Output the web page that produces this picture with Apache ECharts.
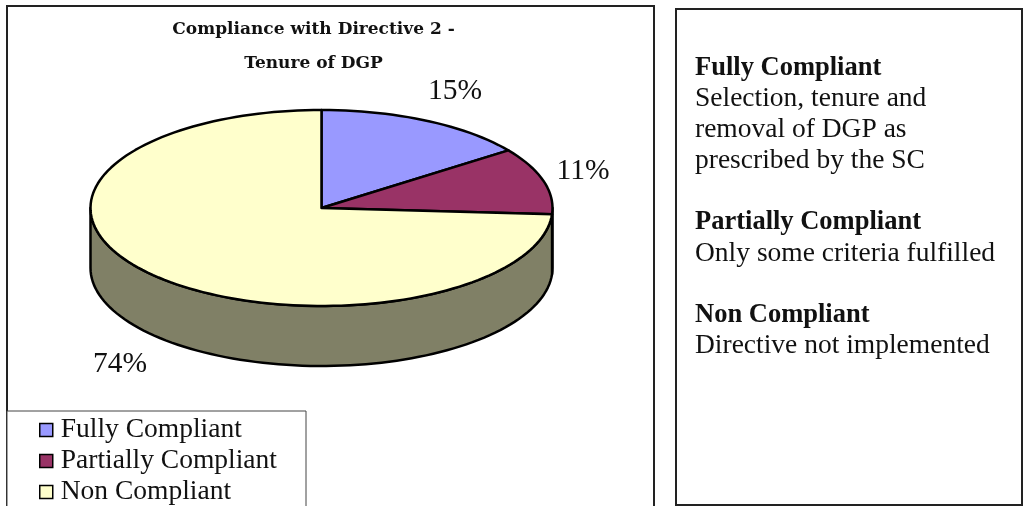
<!DOCTYPE html>
<html>
<head>
<meta charset="utf-8">
<title>Compliance with Directive 2</title>
<style>
  html, body { margin: 0; padding: 0; background: #fff; }
  #chart { width: 1024px; height: 506px; }
</style>
<script src="https://cdn.jsdelivr.net/npm/echarts@6/dist/echarts.min.js"></script>
</head>
<body>
<div id="chart"></div>
<script>
const categories = ['Fully Compliant', 'Partially Compliant', 'Non Compliant']
const values = [15, 11, 74]
const topColors = ['#9999FF', '#993366', '#FFFFCC']
const sideColors = ['#4D4D80', '#4D1A33', '#808066']
const notes = [
  ['Fully Compliant', true],
  ['Selection, tenure and', false],
  ['removal of DGP as', false],
  ['prescribed by the SC', false],
  null,
  ['Partially Compliant', true],
  ['Only some criteria fulfilled', false],
  null,
  ['Non Compliant', true],
  ['Directive not implemented', false]
]

const FONT = '"Liberation Serif", serif'
// tilted pie geometry
const cx = 321.5
const cy = 208
const rx = 231
const ry = 98
const depth = 60
const labelPos = [[455, 91], [583, 171], [120, 364]]

const total = values.reduce((a, b) => a + b, 0)

function pt(deg, dy) {
  const r = deg * Math.PI / 180
  return [cx + rx * Math.sin(r), cy - ry * Math.cos(r) + (dy || 0)]
}

function arc(from, to, dy) {
  const pts = []
  const n = Math.max(2, Math.ceil((to - from) / 2))
  for (let i = 0; i <= n; i++) {
    pts.push(pt(from + (to - from) * i / n, dy))
  }
  return pts
}

function sliceItem(index, from, to) {
  const children = []
  // only the front half of the rim shows
  const a = Math.max(from, 90)
  const b = Math.min(to, 270)
  if (b > a) {
    children.push({
      type: 'polygon',
      shape: { points: arc(a, b, 0).concat(arc(a, b, depth).reverse()) },
      style: { fill: sideColors[index], stroke: '#000', lineWidth: 2.5, lineJoin: 'round' }
    })
  }
  children.push({
    type: 'polygon',
    shape: { points: [[cx, cy]].concat(arc(from, to, 0)) },
    style: { fill: topColors[index], stroke: '#000', lineWidth: 2.5, lineJoin: 'round' }
  })
  children.push({
    type: 'text',
    style: {
      x: labelPos[index][0],
      y: labelPos[index][1],
      text: values[index] + '%',
      fill: '#111',
      font: '29.5px ' + FONT,
      align: 'center',
      verticalAlign: 'middle'
    }
  })
  return { type: 'group', children }
}

let acc = 0
const series = categories.map((name, i) => {
  const from = acc / total * 360
  acc += values[i]
  const to = acc / total * 360
  return {
    type: 'custom',
    name,
    coordinateSystem: 'none',
    silent: true,
    itemStyle: { color: topColors[i] },
    data: [[values[i]]],
    renderItem: () => sliceItem(i, from, to)
  }
})

const noteText = []
notes.forEach((line, i) => {
  if (!line) return
  noteText.push({
    type: 'text',
    x: 695,
    y: 68 + 30.9 * i,
    style: {
      text: line[0],
      fill: '#111',
      font: (line[1] ? 'bold 26.5px ' : '27.5px ') + FONT,
      verticalAlign: 'middle'
    }
  })
})

const frameStyle = { fill: '#fff', stroke: '#222', lineWidth: 2 }

const chart = echarts.init(document.getElementById('chart'), null, { renderer: 'canvas' })
chart.setOption({
  animation: false,
  backgroundColor: '#fff',
  title: {
    text: 'Compliance with Directive 2 -\nTenure of DGP',
    left: 308.5,
    top: 8,
    textAlign: 'center',
    textStyle: { fontFamily: '"DejaVu Serif", serif', fontWeight: 'bold', fontSize: 17, lineHeight: 34, color: '#111' }
  },
  legend: {
    orient: 'vertical',
    left: 34,
    top: 411,
    height: 130,
    icon: 'rect',
    itemWidth: 13,
    itemHeight: 13,
    itemGap: 3,
    data: categories,
    itemStyle: { borderColor: '#000', borderWidth: 1.5 },
    textStyle: { fontFamily: FONT, fontSize: 27.5, color: '#111', padding: [0, 0, 0, 3] }
  },
  graphic: {
    elements: [
      { type: 'rect', z: -10, shape: { x: 7, y: 6, width: 647, height: 510 }, style: frameStyle },
      { type: 'rect', z: -9, shape: { x: 7, y: 411, width: 299, height: 110 }, style: { fill: '#fff', stroke: '#444', lineWidth: 1 } },
      { type: 'rect', z: -10, shape: { x: 676, y: 9, width: 346, height: 496 }, style: frameStyle }
    ].concat(noteText)
  },
  series
})
</script>
</body>
</html>
